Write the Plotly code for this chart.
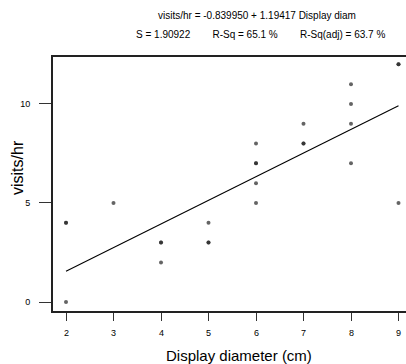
import plotly.graph_objects as go

# Data
display_diam = [2, 2, 2, 3, 4, 4, 4, 5, 5, 5, 6, 6, 6, 6, 6, 7, 7, 7, 8, 8, 8, 8, 9, 9, 9]
visits_hr = [4, 4, 0, 5, 3, 3, 2, 4, 3, 3, 8, 7, 7, 6, 5, 9, 8, 8, 11, 10, 9, 7, 12, 12, 5]
intercept = -0.839950
slope = 1.19417
fit_x = [2, 9]
fit_y = [intercept + slope * v for v in fit_x]
x_ticks = [2, 3, 4, 5, 6, 7, 8, 9]
y_ticks = [0, 5, 10]

FONT = "Arial, Liberation Sans, sans-serif"

fig = go.Figure()
fig.add_trace(go.Scatter(
    x=display_diam, y=visits_hr, mode="markers",
    marker=dict(symbol="circle", size=4, color="#222222", opacity=0.7, line=dict(width=0)),
    showlegend=False, hoverinfo="skip"))
fig.add_trace(go.Scatter(
    x=fit_x, y=fit_y, mode="lines",
    line=dict(color="black", width=1.1),
    showlegend=False, hoverinfo="skip"))

L, T, R, B = 53, 57, 0, 53
W, H = 406, 364
pw, ph = W - L - R, H - T - B

def px(x):
    return (x - L) / pw

def py(y):
    return (H - B - y) / ph

annots = [
    dict(text="visits/hr = -0.839950 + 1.19417 Display diam", x=px(257), y=py(15), size=10),
    dict(text="S = 1.90922" + "&nbsp;" * 8 + "R-Sq = 65.1 %" + "&nbsp;" * 8 + "R-Sq(adj) = 63.7 %",
         x=px(260), y=py(35), size=10),
    dict(text="Display diameter (cm)", x=px(239.5), y=py(355), size=15),
]
ann = []
for a in annots:
    ann.append(dict(text=a["text"], x=a["x"], y=a["y"], xref="paper", yref="paper",
                    xanchor="center", yanchor="middle", showarrow=False,
                    font=dict(family=FONT, size=a["size"], color="black")))
ann.append(dict(text="visits/hr", x=px(17), y=py(168), xref="paper", yref="paper",
                xanchor="center", yanchor="middle", showarrow=False, textangle=-90,
                font=dict(family=FONT, size=16, color="black")))
# x tick labels placed just below the ticks
for t in x_ticks:
    ann.append(dict(text=str(t), x=t, y=py(333), xref="x", yref="paper",
                    xanchor="center", yanchor="middle", showarrow=False,
                    font=dict(family=FONT, size=9, color="black")))

fig.update_layout(
    width=W, height=H,
    margin=dict(l=L, r=R, t=T, b=B),
    paper_bgcolor="white", plot_bgcolor="white",
    font=dict(family=FONT, color="black"),
    annotations=ann,
    xaxis=dict(range=[1.726, 9.158], tickvals=x_ticks, ticks="outside", ticklen=8,
               tickwidth=1, tickcolor="#333", showline=True, linecolor="#222", linewidth=2,
               mirror=True, showgrid=False, zeroline=False, showticklabels=False),
    yaxis=dict(range=[-0.4545, 12.37], tickvals=y_ticks, ticks="outside", ticklen=12,
               tickwidth=1, tickcolor="#333", showline=True, linecolor="#222", linewidth=2,
               mirror=False, showgrid=False, zeroline=False,
               tickfont=dict(family=FONT, size=9, color="black"), ticklabelstandoff=7),
)

fig.write_html("out.html", config={"displayModeBar": False, "staticPlot": True},
               post_script="document.body.style.margin='0px';document.body.style.overflow='hidden';")
